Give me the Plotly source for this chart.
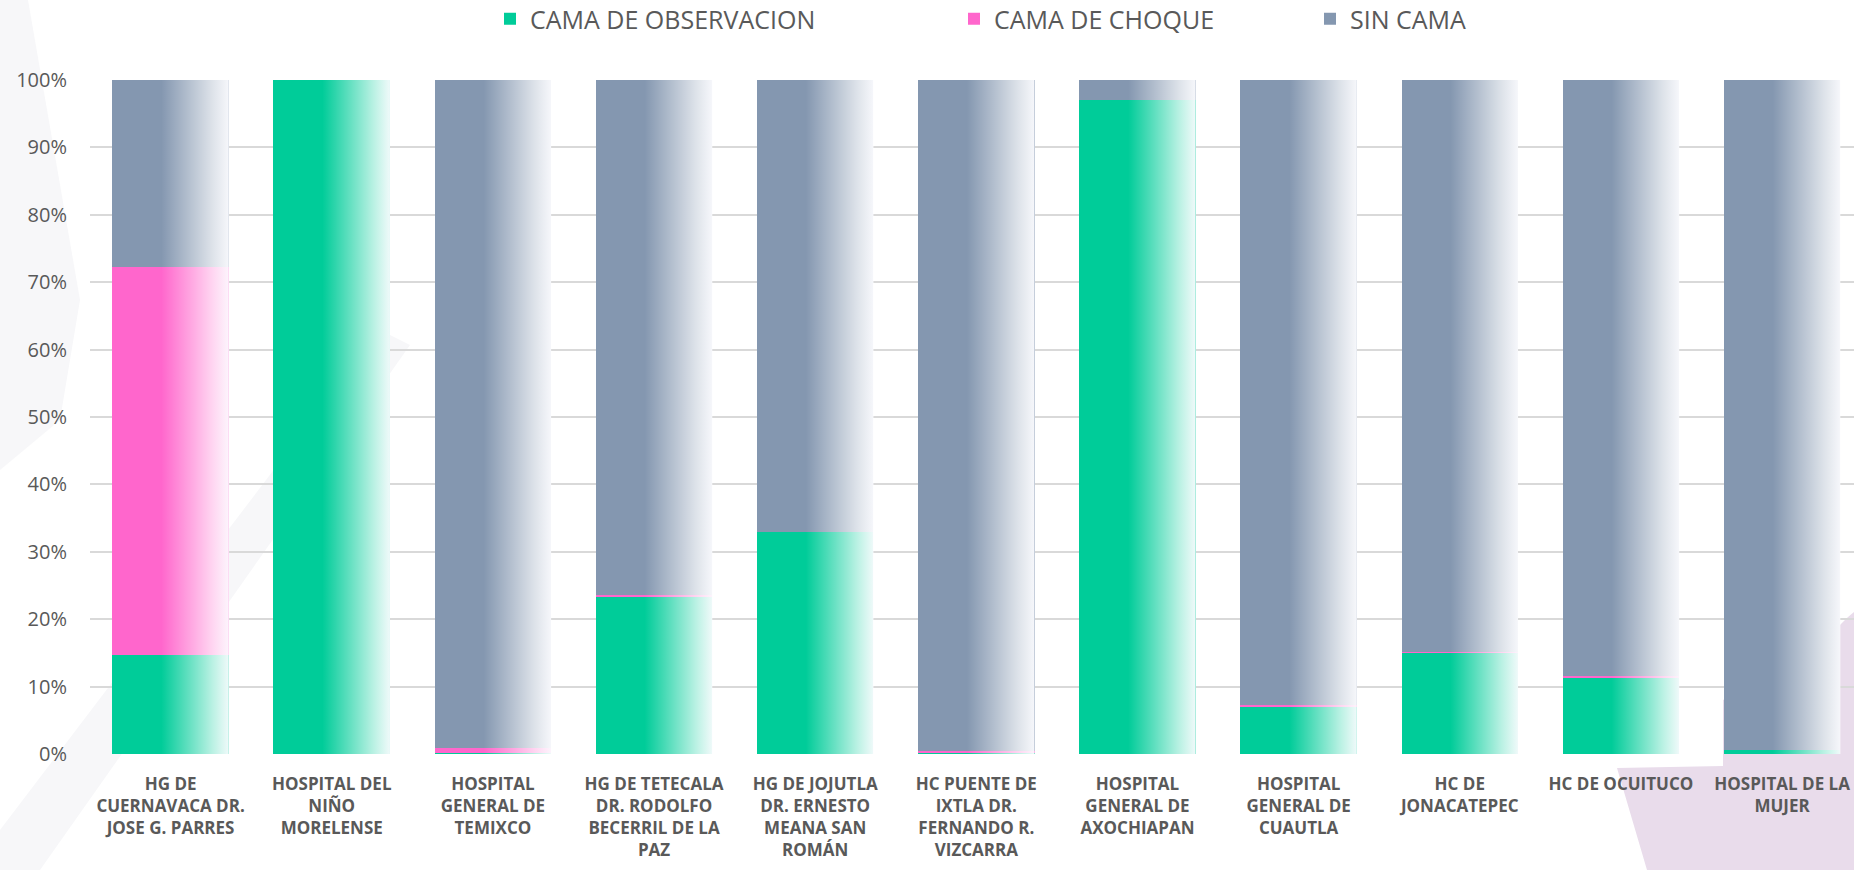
import plotly.graph_objects as go

# ---------------- data ----------------
categories = [
    "HG DE CUERNAVACA DR. JOSE G. PARRES",
    "HOSPITAL DEL NIÑO MORELENSE",
    "HOSPITAL GENERAL DE TEMIXCO",
    "HG DE TETECALA DR. RODOLFO BECERRIL DE LA PAZ",
    "HG DE JOJUTLA DR. ERNESTO MEANA SAN ROMÁN",
    "HC PUENTE DE IXTLA DR. FERNANDO R. VIZCARRA",
    "HOSPITAL GENERAL DE AXOCHIAPAN",
    "HOSPITAL GENERAL DE CUAUTLA",
    "HC DE JONACATEPEC",
    "HC DE OCUITUCO",
    "HOSPITAL DE LA MUJER",
]
tick_labels = [
    "HG DE<br>CUERNAVACA DR.<br>JOSE G. PARRES",
    "HOSPITAL DEL<br>NIÑO<br>MORELENSE",
    "HOSPITAL<br>GENERAL DE<br>TEMIXCO",
    "HG DE TETECALA<br>DR. RODOLFO<br>BECERRIL DE LA<br>PAZ",
    "HG DE JOJUTLA<br>DR. ERNESTO<br>MEANA SAN<br>ROMÁN",
    "HC PUENTE DE<br>IXTLA DR.<br>FERNANDO R.<br>VIZCARRA",
    "HOSPITAL<br>GENERAL DE<br>AXOCHIAPAN",
    "HOSPITAL<br>GENERAL DE<br>CUAUTLA",
    "HC DE<br>JONACATEPEC",
    "HC DE OCUITUCO",
    "HOSPITAL DE LA<br>MUJER",
]
cama_observacion = [14.7, 100.0, 0.2, 23.4, 32.9, 0.1, 97.0, 7.0, 15.0, 11.4, 0.6]
cama_choque      = [57.6, 0.0, 0.65, 0.2, 0.0, 0.35, 0.0, 0.2, 0.15, 0.2, 0.0]
sin_cama         = [27.7, 0.0, 99.15, 76.4, 67.1, 99.55, 3.0, 92.8, 84.85, 88.4, 99.4]
y_ticks = [0, 10, 20, 30, 40, 50, 60, 70, 80, 90, 100]
y_tick_labels = ["0%", "10%", "20%", "30%", "40%", "50%", "60%", "70%", "80%", "90%", "100%"]

series = [
    ("CAMA DE OBSERVACION", cama_observacion, "#00CC99", "legend"),
    ("CAMA DE CHOQUE", cama_choque, "#FF66CC", "legend2"),
    ("SIN CAMA", sin_cama, "#8497B0", "legend3"),
]

# ---------------- style ----------------
W, H = 1854, 870
ML, MR, MT, MB = 90, 0, 80, 116
BAR_W = 0.723
FADE_START = 0.42
TXT = "#595959"
FONT = "Open Sans"

xs = list(range(len(categories)))
fig = go.Figure()

for name, vals, color, lg in series:
    fig.add_trace(go.Bar(
        x=xs, y=vals, name=name, width=BAR_W,
        marker=dict(color=color, line=dict(width=0)),
        legend=lg, customdata=categories,
        hovertemplate="%{customdata}<br>" + name + ": %{y:.1f}%<extra></extra>",
    ))

# white fade on the right side of every bar (gradient look)
for i in xs:
    x0 = i - BAR_W / 2 + FADE_START * BAR_W
    x1 = i + BAR_W / 2
    fig.add_trace(go.Scatter(
        x=[x0, x1, x1, x0, x0], y=[0, 0, 100, 100, 0],
        fill="toself", mode="lines", line=dict(width=0),
        fillgradient=dict(
            type="horizontal",
            colorscale=[[0, "rgba(255,255,255,0)"], [0.75, "rgba(255,255,255,0.72)"], [1, "rgba(252,252,255,0.95)"]],
            start=x0, stop=x1,
        ),
        hoverinfo="skip", showlegend=False,
    ))

pw = W - ML - MR
ph = H - MT - MB
def px_x(p):
    return (p - ML) / pw
def px_y(p):
    return (H - MB - p) / ph
def poly(pts):
    return "M " + " L ".join(f"{px_x(a):.5f},{px_y(b):.5f}" for a, b in pts) + " Z"

# decorative background shapes
shapes = [
    # lilac shape, lower right
    dict(type="path", xref="paper", yref="paper",
         path=poly([(1617, 768), (1723, 766), (1723, 700), (1840, 625), (1848, 617),
                    (1854, 612), (1854, 870), (1647, 870)]),
         fillcolor="#E9DCEB", line=dict(width=0), layer="below"),
    # faint grey watermark, left
    dict(type="path", xref="paper", yref="paper",
         path=poly([(0, 0), (28, 0), (80, 300), (60, 420), (0, 470)]),
         fillcolor="#F7F7F9", line=dict(width=0), layer="below"),
    dict(type="path", xref="paper", yref="paper",
         path=poly([(0, 830), (380, 330), (410, 345), (40, 870), (0, 870)]),
         fillcolor="#F7F7F9", line=dict(width=0), layer="below"),
]

leg_common = dict(orientation="h", yanchor="middle", xanchor="left",
                  font=dict(family=FONT, size=25, color=TXT),
                  bgcolor="rgba(0,0,0,0)", borderwidth=0)
ly = px_y(19)

fig.update_layout(
    width=W, height=H,
    margin=dict(l=ML, r=MR, t=MT, b=MB, autoexpand=False),
    barmode="stack", barnorm="percent",
    paper_bgcolor="white", plot_bgcolor="rgba(0,0,0,0)",
    shapes=shapes,
    legend=dict(x=px_x(490), y=ly, **leg_common),
    legend2=dict(x=px_x(954), y=ly, **leg_common),
    legend3=dict(x=px_x(1310), y=ly, **leg_common),
    xaxis=dict(
        range=[-0.5, -0.5 + pw / 161.15],
        tickvals=xs, ticktext=tick_labels,
        showgrid=False, zeroline=False, showline=False, ticks="",
        tickfont=dict(family=FONT, size=17, color=TXT, weight="bold"),
        ticklabelstandoff=18,
        automargin=False, fixedrange=True,
    ),
    yaxis=dict(
        range=[0, 100], tickvals=y_ticks, ticktext=y_tick_labels,
        showgrid=True, gridcolor="#D9D9D9", gridwidth=1.8,
        zeroline=False, showline=False, ticks="",
        tickfont=dict(family=FONT, size=20, color=TXT),
        ticklabelstandoff=22,
        automargin=False, fixedrange=True,
    ),
    font=dict(family=FONT, color=TXT),
    hoverlabel=dict(font=dict(family=FONT)),
)

fig.write_html("out.html", config={"displayModeBar": False},
               post_script="document.body.style.margin='0';document.body.style.overflow='hidden';")
